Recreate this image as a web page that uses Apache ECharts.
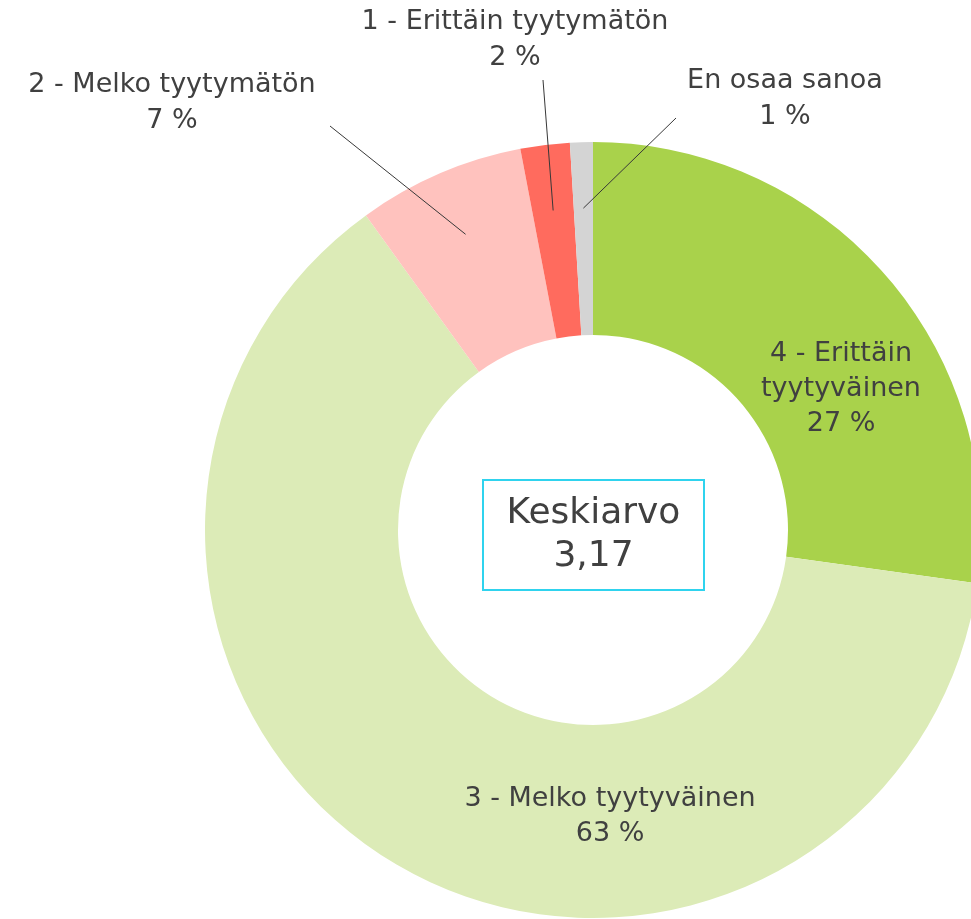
<!DOCTYPE html>
<html>
<head>
<meta charset="utf-8">
<script src="https://cdn.jsdelivr.net/npm/echarts@6/dist/echarts.min.js"></script>
<style>
html,body{margin:0;padding:0;background:#fff;}
#chart{width:971px;height:919px;}
</style>
</head>
<body>
<div id="chart"></div>
<script>
// Data
var categories = ['4 - Erittäin\ntyytyväinen', '3 - Melko tyytyväinen', '2 - Melko tyytymätön', '1 - Erittäin tyytymätön', 'En osaa sanoa'];
var values = [27.2, 62.85, 6.95, 2.05, 0.95];
var percentLabels = [27, 63, 7, 2, 1];
var averageLabel = 'Keskiarvo';
var averageValue = '3,17';

// Styles
var colors = ['#A9D24B', '#DCEBB7', '#FFC2BE', '#FF6B5E', '#D4D4D4'];
var FONT = '"DejaVu Sans", sans-serif';
var TEXT = '#404040';
var CX = 593, CY = 530;
var labelPos = [
  [841, 389], [610, 816], [172, 103], [515, 40], [785, 99]
];
var lineEnds = [null, null, [330, 126], [543, 80], [676, 118]];

var mainData = categories.map(function (c, i) {
  return {
    name: c, value: values[i],
    itemStyle: { color: colors[i] },
    label: { show: i < 2 }
  };
});
var outerData = categories.map(function (c, i) {
  return {
    name: c, value: values[i],
    label: { show: i >= 2 },
    labelLine: { show: i >= 2 }
  };
});

function fmt(p) { return p.name + '\n' + percentLabels[p.dataIndex] + ' %'; }
function layout(p) {
  var pos = labelPos[p.dataIndex];
  var res = { x: pos[0], y: pos[1], align: 'center', verticalAlign: 'middle' };
  var end = lineEnds[p.dataIndex];
  if (p.seriesIndex === 1 && end && p.labelLinePoints) {
    var s = p.labelLinePoints[0];
    res.labelLinePoints = [[s[0], s[1]], [end[0], end[1]], [end[0], end[1]]];
  }
  return res;
}

var chart = echarts.init(document.getElementById('chart'), null, { renderer: 'canvas' });
chart.setOption({
  backgroundColor: '#ffffff',
  animation: false,
  series: [
    {
      type: 'pie',
      center: [CX, CY],
      radius: [195, 388],
      startAngle: 90,
      clockwise: true,
      silent: true,
      avoidLabelOverlap: false,
      data: mainData,
      label: {
        position: 'inside',
        formatter: fmt,
        color: TEXT,
        fontFamily: FONT,
        fontSize: 27,
        lineHeight: 35,
        align: 'center'
      },
      labelLine: { show: false },
      labelLayout: layout
    },
    {
      type: 'pie',
      center: [CX, CY],
      radius: [0, 322],
      startAngle: 90,
      clockwise: true,
      silent: true,
      avoidLabelOverlap: false,
      z: 5,
      itemStyle: { color: 'rgba(0,0,0,0)' },
      data: outerData,
      label: {
        position: 'outside',
        formatter: fmt,
        color: TEXT,
        fontFamily: FONT,
        fontSize: 27,
        lineHeight: 36,
        align: 'center'
      },
      labelLine: {
        length: 10,
        length2: 0,
        lineStyle: { color: '#383838', width: 1 }
      },
      labelLayout: layout
    }
  ],
  graphic: [
    {
      type: 'rect',
      shape: { x: 483, y: 480, width: 221, height: 110 },
      style: { fill: '#ffffff', stroke: '#2FD3EE', lineWidth: 2 },
      z: 10
    },
    {
      type: 'text',
      x: 593.5, y: 535,
      style: {
        text: averageLabel + '\n' + averageValue,
        fill: TEXT,
        font: '36px ' + FONT,
        lineHeight: 43,
        align: 'center',
        verticalAlign: 'middle'
      },
      z: 11
    }
  ]
});
</script>
</body>
</html>
